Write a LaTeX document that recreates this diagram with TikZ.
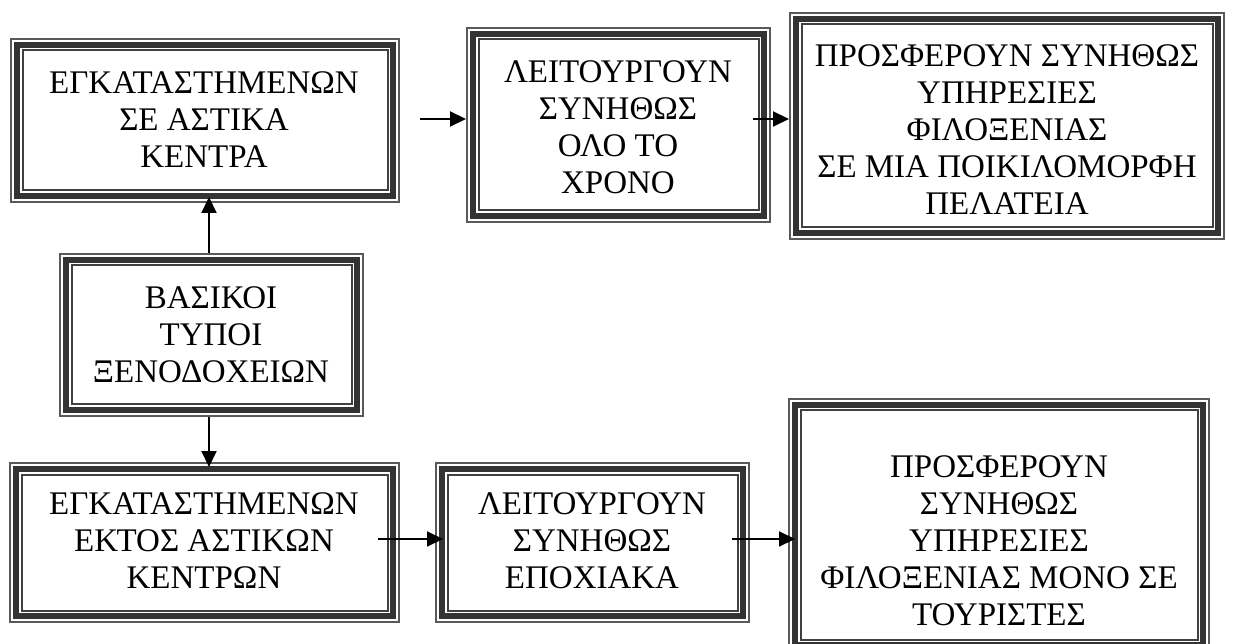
\documentclass[tikz,border=0pt]{standalone}
\usepackage{fontspec}
\setmainfont{Liberation Serif}
\usetikzlibrary{arrows.meta}
\tikzset{
  rim outer/.style={draw=black!65, line width=1.8pt},
  rim thick/.style={draw=black!80, line width=6pt},
  rim inner/.style={draw=black!75, line width=2pt},
  boxframe/.style={rectangle, draw=none, inner sep=0pt, outer sep=0pt},
  boxtext/.style={align=center, inner sep=0pt, font=\fontsize{33}{37}\selectfont},
  arr/.style={-{Triangle[length=16pt,width=15pt]}, line width=2pt, black},
}
% triple-ruled frame: name, left, top, right, bottom
\newcommand\tripleframe[5]{%
  \node[boxframe, minimum width={#4-#2}, minimum height={#5-#3}] (#1) at ({(#2+#4)/2},{(#3+#5)/2}) {};
  \draw[rim outer] ([shift={(0.9,0.9)}]#1.north west) rectangle ([shift={(-0.9,-0.9)}]#1.south east);
  \draw[rim thick] ([shift={(6.75,6.75)}]#1.north west) rectangle ([shift={(-6.75,-6.75)}]#1.south east);
  \draw[rim inner] ([shift={(12.5,12.5)}]#1.north west) rectangle ([shift={(-12.5,-12.5)}]#1.south east);
}
\begin{document}
\begin{tikzpicture}[x=1pt, y=-1pt]
\useasboundingbox (0,0) rectangle (1235,644);
\clip (0,0) rectangle (1235,644);

% frames
\tripleframe{A}{10}{38}{400}{203}
\tripleframe{B}{466}{27}{771}{223}
\tripleframe{C}{789}{12}{1225}{240}
\tripleframe{D}{59}{253}{364}{417}
\tripleframe{E}{9}{462}{400}{623}
\tripleframe{F}{435}{462}{750}{623}
\tripleframe{G}{788}{398}{1210}{652}

% texts
\node[boxtext] (tA) at (204,119.5) {ΕΓΚΑΤΑΣΤΗΜΕΝΩΝ\\ΣΕ ΑΣΤΙΚΑ\\ΚΕΝΤΡΑ};
\node[boxtext] (tB) at (618,127) {ΛΕΙΤΟΥΡΓΟΥΝ\\ΣΥΝΗΘΩΣ\\ΟΛΟ ΤΟ\\ΧΡΟΝΟ};
\node[boxtext] (tC) at (1007,130) {ΠΡΟΣΦΕΡΟΥΝ ΣΥΝΗΘΩΣ\\ΥΠΗΡΕΣΙΕΣ\\ΦΙΛΟΞΕΝΙΑΣ\\ΣΕ ΜΙΑ ΠΟΙΚΙΛΟΜΟΡΦΗ\\ΠΕΛΑΤΕΙΑ};
\node[boxtext] (tD) at (211,335) {ΒΑΣΙΚΟΙ\\ΤΥΠΟΙ\\ΞΕΝΟΔΟΧΕΙΩΝ};
\node[boxtext] (tE) at (204,541) {ΕΓΚΑΤΑΣΤΗΜΕΝΩΝ\\ΕΚΤΟΣ ΑΣΤΙΚΩΝ\\ΚΕΝΤΡΩΝ};
\node[boxtext] (tF) at (592,541) {ΛΕΙΤΟΥΡΓΟΥΝ\\ΣΥΝΗΘΩΣ\\ΕΠΟΧΙΑΚΑ};
\node[boxtext] (tG) at (999,541) {ΠΡΟΣΦΕΡΟΥΝ\\ΣΥΝΗΘΩΣ\\ΥΠΗΡΕΣΙΕΣ\\ΦΙΛΟΞΕΝΙΑΣ ΜΟΝΟ ΣΕ\\ΤΟΥΡΙΣΤΕΣ};

% connectors
\coordinate (vx) at (209,0);
\coordinate (a0) at (420,119);
\coordinate (b0) at (753,119);
\coordinate (e0) at (378,539);
\coordinate (f0) at (732,539);
\draw[arr, shorten >=-6pt] (D.north -| vx) -- (A.south -| vx);
\draw[arr, shorten >=-5pt] (D.south -| vx) -- (E.north -| vx);
\draw[arr] (a0) -- (a0 -| B.west);
\draw[arr] (b0) -- (b0 -| C.west);
\draw[arr, shorten >=-8pt] (e0) -- (e0 -| F.west);
\draw[arr, shorten >=-7pt] (f0) -- (f0 -| G.west);
\end{tikzpicture}
\end{document}
